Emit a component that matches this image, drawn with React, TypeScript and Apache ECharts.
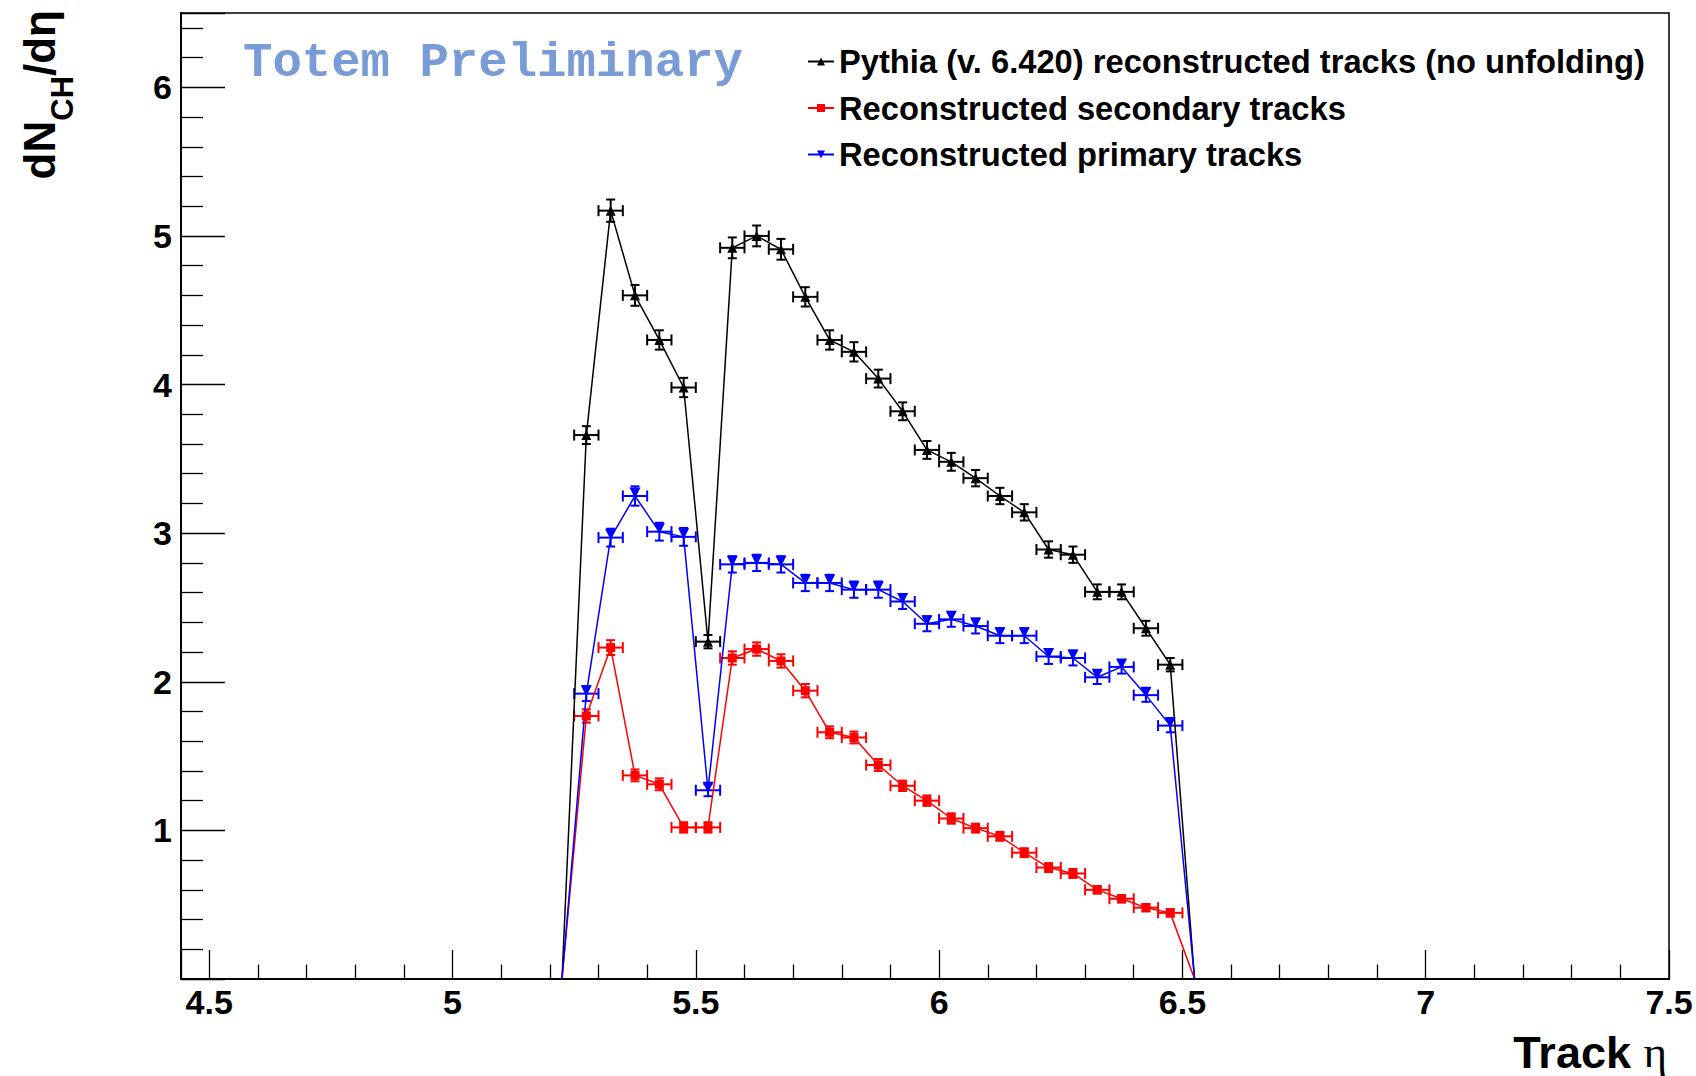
import React, { useEffect, useRef } from 'react';
import * as echarts from 'echarts';

// ---- data ----
const etaCenters = [
  5.225, 5.275, 5.325, 5.375, 5.425, 5.475, 5.525, 5.575, 5.625, 5.675, 5.725, 5.775, 5.825, 5.875,
  5.925, 5.975, 6.025, 6.075, 6.125, 6.175, 6.225, 6.275, 6.325, 6.375, 6.425, 6.475, 6.525,
];
const binHalfWidth = 0.025;

const pythiaValues = [
  0, 3.66, 5.17, 4.6, 4.3, 3.98, 2.27, 4.92, 5.0, 4.91, 4.59, 4.3, 4.22, 4.04,
  3.82, 3.56, 3.48, 3.37, 3.25, 3.14, 2.89, 2.855, 2.605, 2.605, 2.36, 2.115, 0,
];
const pythiaErrors = [
  0, 0.06, 0.075, 0.07, 0.065, 0.065, 0.045, 0.07, 0.07, 0.07, 0.065, 0.065, 0.065, 0.06,
  0.06, 0.06, 0.06, 0.055, 0.055, 0.055, 0.055, 0.055, 0.05, 0.05, 0.05, 0.045, 0,
];

const secondaryValues = [
  0, 1.77, 2.23, 1.37, 1.31, 1.02, 1.02, 2.16, 2.22, 2.14, 1.94, 1.66, 1.625, 1.44,
  1.3, 1.2, 1.08, 1.015, 0.96, 0.85, 0.75, 0.71, 0.6, 0.54, 0.48, 0.445, 0,
];
const secondaryErrors = [
  0, 0.045, 0.05, 0.04, 0.04, 0.035, 0.035, 0.045, 0.045, 0.045, 0.045, 0.04, 0.04, 0.04,
  0.035, 0.035, 0.035, 0.03, 0.03, 0.03, 0.03, 0.03, 0.025, 0.025, 0.025, 0.025, 0,
];

const primaryValues = [
  0, 1.92, 2.97, 3.25, 3.01, 2.975, 1.27, 2.79, 2.8, 2.79, 2.665, 2.665, 2.62, 2.62,
  2.54, 2.39, 2.42, 2.375, 2.31, 2.31, 2.17, 2.16, 2.03, 2.1, 1.91, 1.705, 0,
];
const primaryErrors = [
  0, 0.05, 0.06, 0.065, 0.06, 0.06, 0.04, 0.055, 0.055, 0.055, 0.055, 0.055, 0.055, 0.055,
  0.05, 0.05, 0.05, 0.05, 0.05, 0.05, 0.05, 0.05, 0.045, 0.045, 0.045, 0.045, 0,
];

const seriesNames = [
  'Pythia (v. 6.420) reconstructed tracks (no unfolding)',
  'Reconstructed secondary tracks',
  'Reconstructed primary tracks',
];

const xRange = [4.442, 7.5];
const yRange = [0, 6.5];
const yMajorStep = 1;

const FONT = '"Liberation Sans", Arial, Helvetica, sans-serif';

function lineSeries(name: string, values: number[], errors: number[], color: string, symbol: string, size: number, rotate: number, offset: number[]) {
  return {
    type: 'line',
    name,
    data: etaCenters.map((x, i) => ({ value: [x, values[i]], symbol: errors[i] ? symbol : 'none' })),
    symbol,
    symbolSize: size,
    symbolRotate: rotate,
    symbolOffset: offset,
    showAllSymbol: true,
    lineStyle: { color, width: 1.5 },
    itemStyle: { color },
    z: 4,
    silent: true,
  };
}

function errorSeries(values: number[], errors: number[], color: string) {
  return {
    type: 'custom',
    data: etaCenters.map((x, i) => [x, values[i], errors[i]]),
    encode: { x: 0, y: 1 },
    z: 3,
    silent: true,
    renderItem: (_params: any, api: any) => {
      const x = api.value(0);
      const y = api.value(1);
      const e = api.value(2);
      if (!e) return null;
      const l = api.coord([x - binHalfWidth, y]);
      const r = api.coord([x + binHalfWidth, y]);
      const t = api.coord([x, y + e]);
      const b = api.coord([x, y - e]);
      const style = { stroke: color, lineWidth: 2, fill: null };
      const capV = 5.5;
      const capH = 4.5;
      return {
        type: 'group',
        children: [
          { type: 'line', shape: { x1: l[0], y1: l[1], x2: r[0], y2: r[1] }, style },
          { type: 'line', shape: { x1: t[0], y1: t[1], x2: b[0], y2: b[1] }, style },
          { type: 'line', shape: { x1: l[0], y1: l[1] - capV, x2: l[0], y2: l[1] + capV }, style },
          { type: 'line', shape: { x1: r[0], y1: r[1] - capV, x2: r[0], y2: r[1] + capV }, style },
          { type: 'line', shape: { x1: t[0] - capH, y1: t[1], x2: t[0] + capH, y2: t[1] }, style },
          { type: 'line', shape: { x1: b[0] - capH, y1: b[1], x2: b[0] + capH, y2: b[1] }, style },
        ],
      };
    },
  };
}

export default function App() {
  const ref = useRef<HTMLDivElement>(null);
  useEffect(() => {
    if (!ref.current) return;
    const chart = echarts.init(ref.current, null, { renderer: 'svg' });
    const axisLabel = { color: '#000', fontSize: 34, fontWeight: 'bold', fontFamily: FONT };
    chart.setOption({
      animation: false,
      backgroundColor: '#fff',
      grid: { left: 181, right: 27, top: 13, bottom: 97, show: true, borderColor: '#000', borderWidth: 1.5, containLabel: false },
      xAxis: {
        type: 'value',
        min: xRange[0],
        max: xRange[1],
        splitNumber: 6,
        axisLine: { show: true, onZero: false, lineStyle: { color: '#000', width: 2 } },
        axisTick: { show: true, inside: true, length: 29, lineStyle: { color: '#000', width: 1.3 } },
        minorTick: { show: true, splitNumber: 5, length: 14.5, lineStyle: { color: '#000', width: 1.3 } },
        splitLine: { show: false },
        axisLabel: { ...axisLabel, margin: 6, showMinLabel: false, showMaxLabel: true },
      },
      yAxis: {
        type: 'value',
        min: yRange[0],
        max: yRange[1],
        interval: yMajorStep,
        axisLine: { show: true, onZero: false, lineStyle: { color: '#000', width: 2 } },
        axisTick: { show: true, inside: true, length: 44, lineStyle: { color: '#000', width: 1.3 } },
        minorTick: { show: true, splitNumber: 5, length: 22, lineStyle: { color: '#000', width: 1.3 } },
        splitLine: { show: false },
        axisLabel: { ...axisLabel, margin: 9, showMinLabel: false, showMaxLabel: false },
      },
      legend: {
        data: seriesNames,
        orient: 'vertical',
        left: 802,
        top: 40,
        itemWidth: 26,
        itemHeight: 10,
        itemGap: 13.5,
        selectedMode: false,
        textStyle: { color: '#000', fontSize: 32.7, fontWeight: 'bold', fontFamily: FONT, lineHeight: 33 },
      },
      graphic: [
        {
          type: 'text',
          x: 243,
          y: 38,
          style: {
            text: 'Totem Preliminary',
            fill: '#7a9cd6',
            font: 'bold 49px "Liberation Mono", "Courier New", monospace',
            verticalAlign: 'top',
            align: 'left',
          },
        },
        {
          type: 'text',
          x: 1667,
          y: 1029,
          style: {
            text: '{a|Track }{b|η}',
            align: 'right',
            verticalAlign: 'top',
            rich: {
              a: { fontSize: 45, fontWeight: 'bold', fontFamily: FONT, fill: '#000', lineHeight: 46 },
              b: { fontSize: 45, fontWeight: 'normal', fontFamily: '"Liberation Serif", "DejaVu Serif", serif', fill: '#000', lineHeight: 46 },
            },
          },
        },
        {
          type: 'text',
          x: 17,
          y: 10,
          rotation: Math.PI / 2,
          style: {
            text: '{a|dN}{b|CH}{a|/dη}',
            align: 'right',
            verticalAlign: 'top',
            rich: {
              a: { fontSize: 44, fontWeight: 'bold', fontFamily: FONT, fill: '#000', lineHeight: 44, verticalAlign: 'top' },
              b: { fontSize: 31, fontWeight: 'bold', fontFamily: FONT, fill: '#000', lineHeight: 61, verticalAlign: 'bottom' },
            },
          },
        },
      ],
      series: [
        errorSeries(pythiaValues, pythiaErrors, '#000000'),
        errorSeries(secondaryValues, secondaryErrors, '#ff0000'),
        errorSeries(primaryValues, primaryErrors, '#0000ff'),
        lineSeries(seriesNames[0], pythiaValues, pythiaErrors, '#000000', 'triangle', 10, 0, [0, 0]),
        lineSeries(seriesNames[1], secondaryValues, secondaryErrors, '#ff0000', 'rect', 9, 0, [0, 0]),
        lineSeries(seriesNames[2], primaryValues, primaryErrors, '#0000ff', 'triangle', 11, 180, [0, -3]),
      ],
    });
    return () => chart.dispose();
  }, []);
  return <div ref={ref} style={{ position: 'absolute', left: 0, top: 0, width: 1696, height: 1076 }} />;
}
